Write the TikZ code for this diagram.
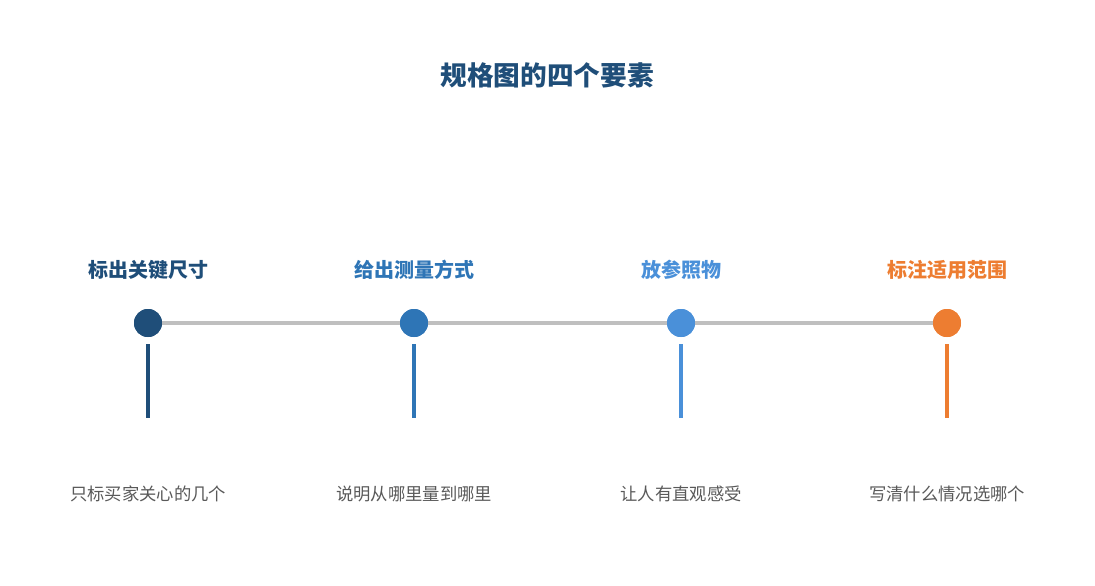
\documentclass[tikz,border=0pt]{standalone}
\usepackage{fontspec}
\newfontfamily\cjk{Noto Sans CJK SC}
\usetikzlibrary{arrows.meta}
\definecolor{c1}{HTML}{1F4E79}\definecolor{c2}{HTML}{2E75B6}
\definecolor{c3}{HTML}{4A90D9}\definecolor{c4}{HTML}{ED7D31}
\definecolor{ln}{HTML}{BFBFBF}\definecolor{tx}{HTML}{595959}
\begin{document}
\begin{tikzpicture}[x=0.75pt,y=-0.75pt,
  dot/.style={circle,fill=#1,minimum size=21pt,inner sep=0},
  head/.style={text=#1,font=\cjk\bfseries\fontsize{15}{18}\selectfont},
  captxt/.style={text=tx,font=\cjk\fontsize{13}{16}\selectfont},
  conn/.style={draw=ln,line width=2.3pt,-{Stealth[length=7pt,width=8pt]},shorten >=-2pt},
  stem/.style={draw=#1,line width=3pt}]
\useasboundingbox (0,0) rectangle (1095,585);
\node[text=c1,font=\cjk\bfseries\fontsize{20}{24}\selectfont] (title) at (547,75) {规格图的四个要素};
\foreach \i/\x/\c/\h/\t in {1/148/c1/标出关键尺寸/只标买家关心的几个,2/414/c2/给出测量方式/说明从哪里量到哪里,3/681/c3/放参照物/让人有直观感受,4/947/c4/标注适用范围/写清什么情况选哪个}{
  \node[head=\c] (h\i) at (\x,270) {\h};
  \node[captxt] (t\i) at (\x,494) {\t};
  \coordinate (a\i) at (\x,344); \coordinate (b\i) at (\x,418);
}
\node[dot=c1] (d1) at (148,323) {};
\node[dot=c2] (d2) at (414,323) {};
\node[dot=c3] (d3) at (681,323) {};
\node[dot=c4] (d4) at (947,323) {};
\begin{scope}[on background layer/.try]
\end{scope}
\draw[conn] (d1.center) -- (d2.center);
\draw[conn] (d2.center) -- (d3.center);
\draw[conn] (d3.center) -- (d4.center);
\node[dot=c1] at (d1) {};
\node[dot=c2] at (d2) {};
\node[dot=c3] at (d3) {};
\node[dot=c4] at (d4) {};
\draw[stem=c1] (a1) -- (b1);
\draw[stem=c2] (a2) -- (b2);
\draw[stem=c3] (a3) -- (b3);
\draw[stem=c4] (a4) -- (b4);
\end{tikzpicture}
\end{document}
